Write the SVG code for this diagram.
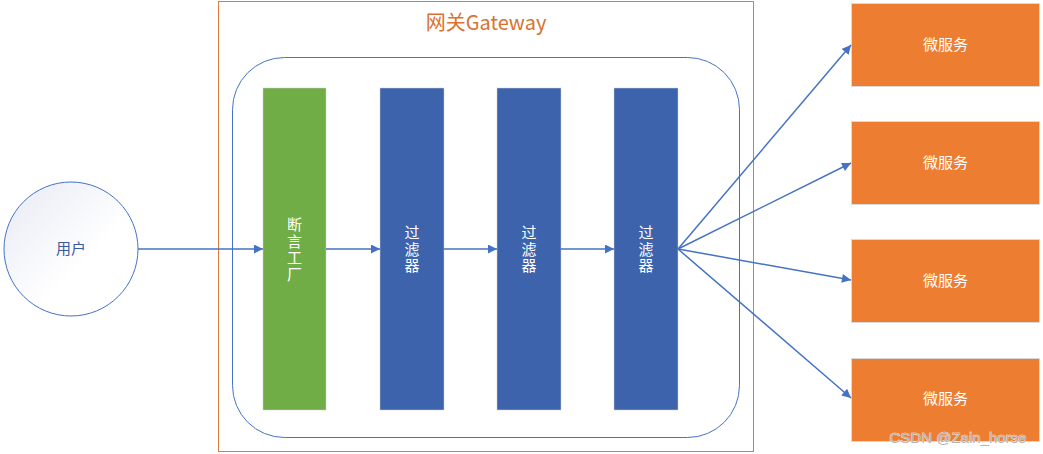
<svg xmlns="http://www.w3.org/2000/svg" width="1043" height="454" viewBox="0 0 1043 454">
<style>
.t{font-family:"Noto Sans CJK SC","Noto Sans",sans-serif;}
.w{fill:#ffffff;font-size:15px;text-anchor:middle;}
.v{writing-mode:vertical-rl;letter-spacing:1.5px;}
.bar{fill:#3D63AD;stroke:#d0d0d0;stroke-width:0.5;}
.svc{fill:#ED7D31;stroke:#d9d9d9;stroke-width:1;}
.c{stroke:#4472C4;stroke-width:1.5;fill:none;marker-end:url(#ah);}
</style>
<defs>
<marker id="ah" viewBox="0 0 10 10" refX="10" refY="5" markerWidth="10" markerHeight="9" markerUnits="userSpaceOnUse" orient="auto"><path d="M0,0 L10,5 L0,10 Z" fill="#4472C4"/></marker>
<linearGradient id="cg" x1="0" y1="0" x2="1" y2="1"><stop offset="0" stop-color="#e8eaf4"/><stop offset="0.6" stop-color="#ffffff"/></linearGradient>
</defs>
<rect width="1043" height="454" fill="#ffffff"/>
<g id="gateway">
<rect x="218.5" y="1.5" width="535" height="450" fill="none" stroke="#E07B39" stroke-width="1"/>
<text class="t" x="486" y="30" font-size="20" fill="#D9722E" text-anchor="middle">网关Gateway</text>
</g>
<g id="inner">
<rect x="232.5" y="57.5" width="507" height="380" rx="52" ry="52" fill="none" stroke="#4472C4" stroke-width="1"/>
</g>
<g id="user">
<circle cx="71" cy="249" r="67" fill="url(#cg)" stroke="#4472C4" stroke-width="1"/>
<text class="t" x="71" y="254" font-size="15" fill="#3a5aa0" text-anchor="middle">用户</text>
</g>
<g id="predicate">
<rect x="263" y="88" width="63" height="322" fill="#70AD47" stroke="#d0d0d0" stroke-width="0.5"/>
<text class="t w v" x="294.5" y="250">断言工厂</text>
</g>
<g id="filter1">
<rect class="bar" x="380" y="88" width="64" height="322"/>
<text class="t w v" x="412" y="250">过滤器</text>
</g>
<g id="filter2">
<rect class="bar" x="497" y="88" width="64" height="322"/>
<text class="t w v" x="529" y="250">过滤器</text>
</g>
<g id="filter3">
<rect class="bar" x="614" y="88" width="64" height="322"/>
<text class="t w v" x="646" y="250">过滤器</text>
</g>
<g id="svc1"><rect class="svc" x="851.5" y="3.5" width="188" height="83"/><text class="t w" x="945.5" y="50" font-size="16">微服务</text></g>
<g id="svc2"><rect class="svc" x="851.5" y="121.5" width="188" height="83"/><text class="t w" x="945.5" y="168" font-size="16">微服务</text></g>
<g id="svc3"><rect class="svc" x="851.5" y="239.5" width="188" height="83"/><text class="t w" x="945.5" y="286" font-size="16">微服务</text></g>
<g id="svc4"><rect class="svc" x="851.5" y="358.5" width="188" height="83"/><text class="t w" x="945.5" y="404" font-size="16">微服务</text></g>
<g id="connectors">
<line class="c" x1="138" y1="249" x2="263" y2="249"/>
<line class="c" x1="326" y1="249" x2="380" y2="249"/>
<line class="c" x1="444" y1="249" x2="497" y2="249"/>
<line class="c" x1="561" y1="249" x2="614" y2="249"/>
<line class="c" x1="678" y1="249" x2="851" y2="45"/>
<line class="c" x1="678" y1="249" x2="851" y2="163"/>
<line class="c" x1="678" y1="249" x2="851" y2="280"/>
<line class="c" x1="678" y1="249" x2="851" y2="398"/>
</g>
<text x="958" y="443" font-family="'Liberation Sans',Arial,sans-serif" font-size="15" fill="#b4b4b4" text-anchor="middle" stroke="#ffffff" stroke-width="0.6" paint-order="stroke">CSDN @Zain_horse</text>
</svg>
